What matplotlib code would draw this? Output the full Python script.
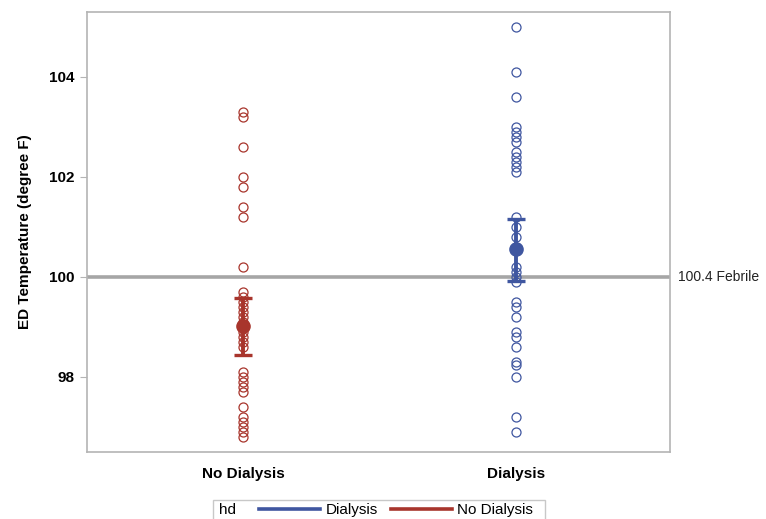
import matplotlib.pyplot as plt
from matplotlib.lines import Line2D
from matplotlib.patches import Rectangle

# ED temperature by dialysis status
groups = ["No Dialysis", "Dialysis"]

temps_no_dialysis = [103.3, 103.2, 102.6, 102.0, 101.8, 101.4, 101.2, 100.2,
                     99.7, 99.6, 99.5, 99.4, 99.3, 99.2, 99.1, 99.0, 98.9,
                     98.8, 98.7, 98.6, 98.1, 98.0, 97.9, 97.8, 97.7, 97.4,
                     97.2, 97.1, 97.0, 96.9, 96.8]
temps_dialysis = [105.0, 104.1, 103.6, 103.0, 102.9, 102.8, 102.7, 102.5,
                  102.4, 102.3, 102.2, 102.1, 101.2, 101.0, 100.8, 100.6,
                  100.2, 100.1, 100.0, 99.9, 99.5, 99.4, 99.2, 98.9, 98.8,
                  98.6, 98.3, 98.25, 98.0, 97.2, 96.9]

# group means with confidence limits
means = [99.02, 100.56]
lower = [98.44, 99.92]
upper = [99.58, 101.16]

febrile_y = 100.0
febrile_label = "100.4 Febrile"
y_ticks = [98, 100, 102, 104]

RED = "#A8352C"
BLUE = "#3F56A0"
FRAME = "#B4B4B4"
REF = "#A6A6A6"

plt.rcParams["font.family"] = ["Liberation Sans Narrow", "Liberation Sans", "DejaVu Sans"]

fig = plt.figure(figsize=(7.66, 5.19), dpi=100)
ax = fig.add_axes([87 / 766, 1 - 452 / 519, 583 / 766, 440 / 519])

series = [temps_no_dialysis, temps_dialysis]
colors = [RED, BLUE]

ax.axhline(febrile_y, color=REF, lw=2.6, zorder=1)

for i, (vals, c) in enumerate(zip(series, colors)):
    ax.plot([i] * len(vals), vals, "o", ms=6.5, mfc="none", mec=c, mew=0.9, zorder=2)
    ax.errorbar(i, means[i], yerr=[[means[i] - lower[i]], [upper[i] - means[i]]],
                fmt="o", ms=9.5, color=c, ecolor=c, elinewidth=2.8,
                capsize=6.5, capthick=2.4, zorder=3)

ax.text(1.013, febrile_y, febrile_label, transform=ax.get_yaxis_transform(),
        ha="left", va="center", fontsize=10, family=["Liberation Sans", "DejaVu Sans"],
        color="#222222")

ax.set_xlim(-0.571, 1.564)
ax.set_ylim(96.5, 105.3)
ax.set_xticks([0, 1])
ax.set_xticklabels(groups, fontsize=11, fontweight="bold")
ax.set_yticks(y_ticks)
ax.set_yticklabels([str(t) for t in y_ticks], fontsize=11, fontweight="bold")
ax.tick_params(axis="x", length=0, pad=11)
ax.tick_params(axis="y", length=5, color=FRAME, pad=4)
ax.set_ylabel("ED Temperature (degree F)", fontsize=11, fontweight="bold", labelpad=12)

for s in ax.spines.values():
    s.set_color(FRAME)
    s.set_linewidth(1.2)

# legend strip at the bottom
fig.patches.append(Rectangle((213 / 766, 1 - 521 / 519), 332 / 766, 21 / 519,
                             transform=fig.transFigure, fill=False,
                             edgecolor="#C8C8C8", lw=1.0))
fig.text(219 / 766, 1 - 510 / 519, "hd", ha="left", va="center", fontsize=11,
         family=["Liberation Sans", "DejaVu Sans"])
handles = [Line2D([], [], color=BLUE, lw=2.6), Line2D([], [], color=RED, lw=2.6)]
fig.legend(handles, ["Dialysis", "No Dialysis"], loc="center left",
           bbox_to_anchor=(259 / 766, 1 - 510 / 519), ncol=2, frameon=False,
           handlelength=4.0, handletextpad=0.35, columnspacing=0.85,
           prop={"family": ["Liberation Sans", "DejaVu Sans"], "size": 11},
           borderpad=0, borderaxespad=0)

fig.savefig("out.png", dpi=100)
